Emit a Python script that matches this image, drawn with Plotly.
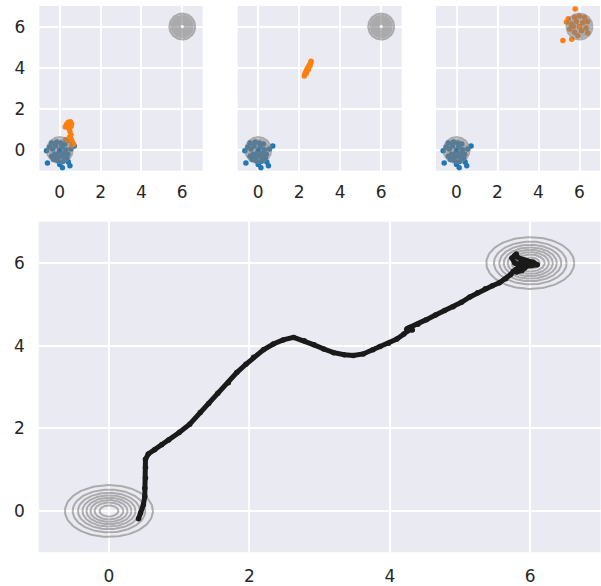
import numpy as np
import plotly.graph_objects as go

# ---------------- data ----------------
tick_vals = [0, 2, 4, 6]
tick_text = ["0", "2", "4", "6"]

source_center = (0.0, 0.0)
target_center = (6.0, 6.0)
sigma = 0.3
density_levels = [0.2, 0.4, 0.6, 0.8, 1.0, 1.2, 1.4, 1.6]

blue_x = [-0.65, -0.60, 0.13, 0.42, 0.50, 0.71, -0.40, -0.15, 0.05, 0.25, -0.35, 0.00, 0.30,
          -0.25, 0.05, 0.20, -0.40, -0.10, 0.15, 0.40, -0.20, 0.35, -0.05, 0.10, -0.30, 0.55,
          -0.50, 0.00, 0.25, -0.15]
blue_y = [-0.03, -0.63, -0.86, -0.58, -0.76, 0.20, 0.35, 0.40, 0.35, 0.30, 0.05, 0.00, 0.02,
          -0.20, -0.30, -0.15, -0.30, -0.50, -0.55, -0.20, 0.20, -0.40, -0.15, 0.15, -0.45, 0.05,
          0.15, -0.70, -0.35, -0.35]

orange1_x = [0.27, 0.33, 0.42, 0.52, 0.58, 0.55, 0.45, 0.50, 0.55, 0.48, 0.58, 0.62, 0.68, 0.40, 0.30, 0.60]
orange1_y = [1.12, 1.25, 1.35, 1.38, 1.28, 1.15, 1.05, 0.90, 0.75, 0.62, 0.50, 0.38, 0.28, 0.45, 0.50, 0.22]

orange2_x = [2.25, 2.28, 2.30, 2.33, 2.36, 2.40, 2.43, 2.46, 2.50, 2.53, 2.56, 2.58, 2.34, 2.45, 2.52, 2.38]
orange2_y = [3.60, 3.68, 3.75, 3.80, 3.88, 3.95, 4.00, 4.06, 4.12, 4.18, 4.25, 4.32, 3.72, 3.92, 4.08, 3.85]

orange3_x = [5.79, 5.19, 5.62, 5.36, 5.45, 6.00, 5.76, 6.00, 6.24, 6.40, 6.32, 6.40, 5.76, 5.92,
             5.52, 5.60, 6.16, 5.85, 6.10, 5.70]
orange3_y = [6.85, 5.32, 5.38, 6.22, 6.38, 6.00, 6.45, 6.52, 6.45, 6.25, 5.93, 5.69, 5.72, 5.56,
             5.88, 6.12, 6.20, 6.25, 5.80, 6.00]

traj_x = [0.42, 0.45, 0.49, 0.51, 0.51, 0.52, 0.52, 0.52, 0.56, 0.65, 0.75, 0.85, 1.00, 1.15,
          1.30, 1.42, 1.55, 1.70, 1.82, 1.95, 2.06, 2.20, 2.34, 2.48, 2.63, 2.78, 2.92, 3.06,
          3.20, 3.35, 3.48, 3.62, 3.76, 3.86, 3.98, 4.10, 4.20, 4.26, 4.30, 4.24, 4.32, 4.28,
          4.40, 4.52, 4.65, 4.78, 4.90, 5.02, 5.14, 5.25, 5.36, 5.46, 5.56, 5.65, 5.72, 5.76,
          5.80, 5.86, 5.78, 5.74, 5.80, 5.78, 5.84, 5.90, 5.96, 6.04, 6.10, 6.02, 5.94, 5.86,
          5.80, 5.88, 5.96, 5.90, 5.84, 5.92, 6.00, 5.92]
traj_y = [-0.19, -0.05, 0.15, 0.35, 0.55, 0.80, 1.05, 1.25, 1.38, 1.48, 1.60, 1.72, 1.90, 2.10,
          2.38, 2.60, 2.85, 3.10, 3.35, 3.55, 3.72, 3.90, 4.04, 4.14, 4.20, 4.12, 4.02, 3.92,
          3.83, 3.78, 3.76, 3.80, 3.90, 3.98, 4.06, 4.16, 4.28, 4.36, 4.42, 4.40, 4.38, 4.44,
          4.52, 4.63, 4.74, 4.85, 4.94, 5.05, 5.18, 5.28, 5.38, 5.45, 5.52, 5.62, 5.72, 5.80,
          5.85, 5.92, 6.00, 6.12, 6.22, 6.18, 6.12, 6.08, 6.05, 6.02, 5.96, 5.94, 5.92, 5.85,
          5.78, 5.82, 5.98, 6.06, 5.98, 5.88, 5.98, 6.02]

# ---------------- styling ----------------
W, H = 601, 586
BG = "#eaeaf2"
BLUE = "#1f77b4"
ORANGE = "#ff7f0e"
FONT = dict(family="DejaVu Sans", size=17, color="#262626")


def px_x(a, b):
    return [a / W, b / W]


def px_y(top, bottom):
    return [1 - bottom / H, 1 - top / H]


def density_rings(center, xa, ya, width):
    """Iso-density lines of an isotropic Gaussian (drawn above the points)."""
    cx, cy = center
    peak = 1.0 / (2 * np.pi * sigma ** 2)
    theta = np.linspace(0, 2 * np.pi, 120)
    xs, ys = [], []
    for lev in density_levels:
        r = sigma * np.sqrt(-2.0 * np.log(lev / peak))
        xs += list(cx + r * np.cos(theta)) + [None]
        ys += list(cy + r * np.sin(theta)) + [None]
    return go.Scatter(x=xs, y=ys, mode="lines", xaxis=xa, yaxis=ya,
                      line=dict(color="#808080", width=width), opacity=0.6,
                      hoverinfo="skip", showlegend=False)


fig = go.Figure()

panels = [("x", "y", orange1_x, orange1_y),
          ("x2", "y2", orange2_x, orange2_y),
          ("x3", "y3", orange3_x, orange3_y)]
for xa, ya, ox, oy in panels:
    fig.add_trace(go.Scatter(x=blue_x, y=blue_y, mode="markers", xaxis=xa, yaxis=ya,
                             marker=dict(color=BLUE, size=5.5), showlegend=False))
    fig.add_trace(go.Scatter(x=ox, y=oy, mode="markers", xaxis=xa, yaxis=ya,
                             marker=dict(color=ORANGE, size=5.5), showlegend=False))
    fig.add_trace(density_rings(source_center, xa, ya, 2.2))
    fig.add_trace(density_rings(target_center, xa, ya, 2.2))

fig.add_trace(density_rings(source_center, "x4", "y4", 2.0))
fig.add_trace(density_rings(target_center, "x4", "y4", 2.0))
fig.add_trace(go.Scatter(x=traj_x, y=traj_y, mode="lines+markers", xaxis="x4", yaxis="y4",
                         line=dict(color="#1a1a1a", width=5),
                         marker=dict(color="#1a1a1a", size=5.5), showlegend=False))

axis_common = dict(range=[-1, 7], tickvals=tick_vals, ticktext=tick_text, showgrid=True,
                   gridcolor="white", gridwidth=1.6, zeroline=False, showline=False,
                   ticks="", tickfont=FONT, fixedrange=True, automargin=False)

top_y = px_y(6, 170.7)
layout = dict(
    width=W, height=H, margin=dict(l=0, r=0, t=0, b=0, autoexpand=False),
    paper_bgcolor="white", plot_bgcolor=BG, showlegend=False,
    xaxis=dict(domain=px_x(39.3, 202.7), anchor="y", ticklabelstandoff=9, **axis_common),
    yaxis=dict(domain=top_y, anchor="x", ticklabelstandoff=13, **axis_common),
    xaxis2=dict(domain=px_x(237.7, 401.7), anchor="y2", ticklabelstandoff=9, **axis_common),
    yaxis2=dict(domain=top_y, anchor="x2", showticklabels=False, **axis_common),
    xaxis3=dict(domain=px_x(436, 600), anchor="y3", ticklabelstandoff=9, **axis_common),
    yaxis3=dict(domain=top_y, anchor="x3", showticklabels=False, **axis_common),
    xaxis4=dict(domain=px_x(38.75, 600.5), anchor="y4", ticklabelstandoff=12, **axis_common),
    yaxis4=dict(domain=px_y(221.7, 552.3), anchor="x4", ticklabelstandoff=13, **axis_common),
)
fig.update_layout(**layout)

fig.write_html("out.html", config={"displayModeBar": False},
               post_script="document.body.style.margin='0px';")
